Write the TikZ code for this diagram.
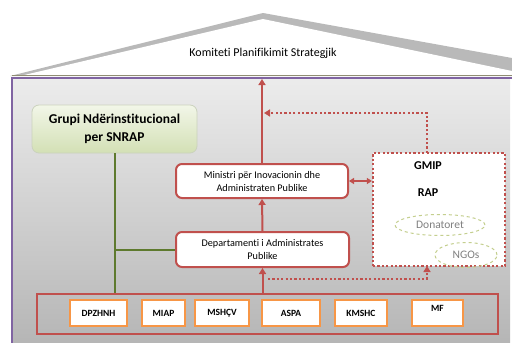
\documentclass[tikz,border=0pt]{standalone}
\usepackage{fontspec}
\setmainfont[Ligatures=NoCommon]{Carlito}
\usetikzlibrary{arrows.meta,shapes.geometric}
\definecolor{offred}{HTML}{C0504D}
\definecolor{offorange}{HTML}{F79646}
\definecolor{offgreen}{HTML}{5E7A2E}
\definecolor{offpurple}{HTML}{8064A2}
\definecolor{palegreenA}{HTML}{F2F6E8}
\definecolor{palegreenB}{HTML}{D3E0B5}
\definecolor{ellgreen}{HTML}{C4CF8E}
\tikzset{
  redbox/.style={draw=offred, line width=2pt, fill=white, rounded corners=6pt, align=center, font=\fontsize{10.2}{13}\selectfont},
  orgbox/.style={draw=offorange, line width=2pt, fill=white, minimum height=26pt, font=\bfseries\fontsize{9.5}{11}\selectfont},
  redline/.style={draw=offred, line width=2pt},
  redarr/.style={redline, -{Triangle[length=6pt,width=7pt]}},
  dotline/.style={draw=offred, line width=2.2pt, dash pattern=on 2.2pt off 2.2pt},
  grline/.style={draw=offgreen, line width=2pt},
  ell/.style={ellipse, draw=ellgreen, dashed, line width=1pt, text=gray, font=\fontsize{11.5}{13}\selectfont}
}
\begin{document}
\begin{tikzpicture}[x=1pt,y=-1pt]
\useasboundingbox (0,0) rectangle (512,343);
% roof
\fill[gray!55] (10,76) -- (263,13) -- (512,58) -- (512,76) -- cycle;
\fill[white] (20,76) -- (263,19) -- (512,71) -- (512,76) -- cycle;
\draw[gray!80!olive, line width=1pt] (12,75.5) -- (512,75.5);
% body
\shade[top color=gray!15, bottom color=gray!58] (12,78) rectangle (510,345);
\draw[offpurple, line width=1.3pt] (512,78) -- (12,78) -- (12,345);
\node[font=\fontsize{12}{14}\selectfont] (kom) at (263,53) {Komiteti Planifikimit Strategjik};
\coordinate (roofbase) at (263,79);
% Grupi
\node[draw=palegreenB!80!black!60, line width=0.8pt, rounded corners=7pt, top color=palegreenA, bottom color=palegreenB, minimum width=165pt, minimum height=48pt, align=center, font=\bfseries\fontsize{13.5}{18}\selectfont] (grupi) at (114.5,129) {Grupi Ndërinstitucional\\per SNRAP};
% red boxes
\node[redbox, minimum width=172pt, minimum height=34pt] (min) at (262,181) {Ministri për Inovacionin dhe\\Administraten Publike};
\node[redbox, minimum width=173pt, minimum height=35pt] (dep) at (262.5,249.5) {Departamenti i Administrates\\Publike};
% GMIP
\node[dotline, fill=white, minimum width=132pt, minimum height=113pt] (gmip) at (439,209.5) {};
\node[font=\bfseries\fontsize{12}{14}\selectfont] (gm) at (428,166) {GMIP};
\node[font=\bfseries\fontsize{12}{14}\selectfont] (rap) at (428,193) {RAP};
\node[ell, minimum width=90pt, minimum height=21pt, inner sep=0pt] (don) at (440,225) {Donatoret};
\node[ell, minimum width=62pt, minimum height=25pt, inner sep=0pt] (ngo) at (466,255) {NGOs};
% bottom box
\node[draw=offred, line width=2pt, minimum width=461pt, minimum height=40pt] (bot) at (267.5,314) {};
\node[orgbox, minimum width=57pt] (b1) at (98.5,313) {DPZHNH};
\node[orgbox, minimum width=43pt] (b2) at (163.5,313) {MIAP};
\node[orgbox, minimum width=54pt] (b3) at (222,313) {MSHÇV};
\node[orgbox, minimum width=58pt] (b4) at (291,313) {ASPA};
\node[orgbox, minimum width=52pt] (b5) at (361,313) {KMSHC};
\node[orgbox, minimum width=51pt, text depth=9pt] (b6) at (437.5,313) {MF};
% green connectors
\draw[grline] (grupi.south) -- (grupi.south |- bot.north);
\draw[grline] (grupi.south |- dep.west) -- (dep.west);
% red arrows
\draw[redarr] (min.north) -- (min.north |- roofbase);
\draw[redarr] (dep.north) -- (min.south);
\draw[redarr] (dep.south |- bot.north) -- (dep.south);
\draw[redline, line width=1.6pt, {Triangle[length=5pt,width=6pt]}-{Triangle[length=5pt,width=6pt]}] (min.east) -- (gmip.west |- min.east);
% dotted connectors
\coordinate (gtop) at (427,153);
\coordinate (uj) at (264,113);
\coordinate (lj) at (268,279);
\coordinate (gbot) at (427,266);
\draw[dotline, -{Triangle[length=6pt,width=7pt]}] (gtop) |- (uj);
\draw[dotline, -{Triangle[length=6pt,width=7pt]}] (lj) -| (gbot);
\end{tikzpicture}
\end{document}
